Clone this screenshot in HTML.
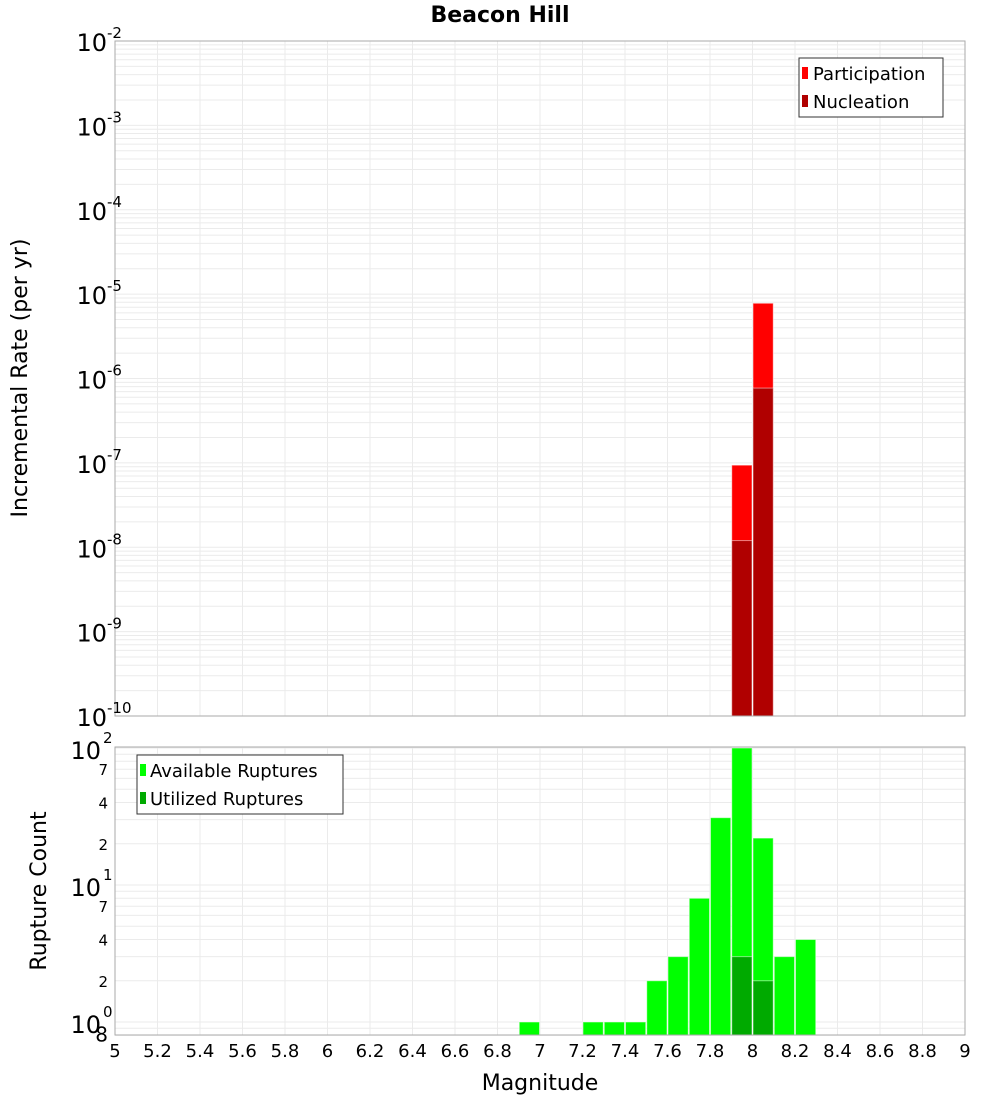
<!DOCTYPE html>
<html><head><meta charset="utf-8"><style>
body{margin:0;background:#fff;}
svg{display:block;font-family:"DejaVu Sans","Liberation Sans",sans-serif;}
</style></head><body>
<svg id="chart" width="1000" height="1100" xmlns="http://www.w3.org/2000/svg">
<rect width="1000" height="1100" fill="#fff"/>
<text x="500" y="22" text-anchor="middle" font-size="22" font-weight="bold">Beacon Hill</text>
<g id="topPlot"></g><g id="botPlot"></g>
<text transform="translate(27,378) rotate(-90)" text-anchor="middle" font-size="22">Incremental Rate (per yr)</text>
<text transform="translate(46,891) rotate(-90)" text-anchor="middle" font-size="22">Rupture Count</text>
<text x="540" y="1090" text-anchor="middle" font-size="22">Magnitude</text>
<g>
<rect x="799" y="58" width="144" height="59" fill="#fff" stroke="#333"/>
<rect x="802" y="67" width="6" height="12" fill="#ff0000"/>
<text x="813" y="80" font-size="18">Participation</text>
<rect x="802" y="95" width="6" height="12" fill="#b00000"/>
<text x="813" y="108" font-size="18">Nucleation</text>
</g>
<g>
<rect x="137" y="755" width="206" height="59" fill="#fff" stroke="#333"/>
<rect x="140" y="764" width="6" height="12" fill="#00ff00"/>
<text x="150" y="777" font-size="18">Available Ruptures</text>
<rect x="140" y="792" width="6" height="12" fill="#00aa00"/>
<text x="150" y="805" font-size="18">Utilized Ruptures</text>
</g>
</svg>
<script>
const rateMags=[7.95,8.05];
const participation=[9.4e-8,7.8e-6];
const nucleation=[1.2e-8,7.7e-7];
const countMags=[6.95,7.25,7.35,7.45,7.55,7.65,7.75,7.85,7.95,8.05,8.15,8.25];
const available=[1,1,1,1,2,3,8,31,100,22,3,4];
const utilMags=[7.95,8.05];
const utilized=[3,2];
const xTicks=[5,5.2,5.4,5.6,5.8,6,6.2,6.4,6.6,6.8,7,7.2,7.4,7.6,7.8,8,8.2,8.4,8.6,8.8,9];
const topDecades=[-10,-9,-8,-7,-6,-5,-4,-3,-2];
const botDecades=[0,1,2];
const botMinorLabels=[0.8,2,4,7,20,40,70];

const NS="http://www.w3.org/2000/svg";
const L=115,R=965;
const xS=m=>L+(m-5)/4*(R-L);
const yTop=v=>716-(Math.log10(v)+10)/8*675;
const yBot=v=>1022-Math.log10(v)*137;
function el(p,tag,a){const e=document.createElementNS(NS,tag);for(const k in a)e.setAttribute(k,a[k]);p.appendChild(e);return e;}
const gTop=document.getElementById('topPlot'),gBot=document.getElementById('botPlot');

function grid(g,y0,y1,yf,minorVals){
  minorVals.forEach(v=>{const yy=yf(v);if(yy>=y0-0.5&&yy<=y1+0.5){const l=el(g,'line',{x1:L,x2:R,y1:yy,y2:yy,stroke:'#ebebeb','stroke-width':1});

}});
  xTicks.forEach(t=>{const l=el(g,'line',{x1:xS(t),x2:xS(t),y1:y0,y2:y1,stroke:'#ebebeb'});

});
}
function bar(g,m,v,yf,base,fill,name){const y=yf(v);const r=el(g,'rect',{x:xS(m-0.05)+0.5,y:y,width:xS(m+0.05)-xS(m-0.05)-1,height:base-y,fill:fill,stroke:'#fff','stroke-opacity':0.5,'stroke-width':1});

}

const tMinor=[];for(let d=-10;d<-2;d++)for(let k=1;k<10;k++)tMinor.push(k*Math.pow(10,d));tMinor.push(1e-2);
grid(gTop,41,716,yTop,tMinor);
rateMags.forEach((m,i)=>bar(gTop,m,participation[i],yTop,716,'#ff0000','participation-bar'));
rateMags.forEach((m,i)=>bar(gTop,m,nucleation[i],yTop,716,'#b00000','nucleation-bar'));
el(gTop,'rect',{x:L,y:41,width:R-L,height:675,fill:'none',stroke:'#aaa'});
topDecades.forEach(d=>{const yy=yTop(Math.pow(10,d));const t=el(gTop,'text',{x:107,y:yy+10,'text-anchor':'end','font-size':24});t.textContent='10';


const s=el(gTop,'text',{x:107,y:yy-3,'font-size':15});s.textContent=String(d);

});

const bMinor=[];for(let d=-1;d<2;d++)for(let k=1;k<10;k++)bMinor.push(k*Math.pow(10,d));bMinor.push(100);
grid(gBot,747,1035,yBot,bMinor);
countMags.forEach((m,i)=>bar(gBot,m,available[i],yBot,1035,'#00ff00','available-bar'));
utilMags.forEach((m,i)=>bar(gBot,m,utilized[i],yBot,1035,'#00aa00','utilized-bar'));
el(gBot,'rect',{x:L,y:747,width:R-L,height:288,fill:'none',stroke:'#aaa'});
botDecades.forEach(d=>{const yy=yBot(Math.pow(10,d));const t=el(gBot,'text',{x:101,y:yy+11,'text-anchor':'end','font-size':24});t.textContent='10';


const s=el(gBot,'text',{x:103,y:yy-5,'font-size':15});s.textContent=String(d);

});
botMinorLabels.forEach(v=>{const yy=yBot(v);const t=el(gBot,'text',{x:108,y:yy+6,'text-anchor':'end','font-size':v<1?20:15});t.textContent=String(v<1?Math.round(v*10):String(v)[0]);

});
xTicks.forEach(t=>{const tx=el(gBot,'text',{x:xS(t),y:1057,'text-anchor':'middle','font-size':18});tx.textContent=String(t);

});
</script>
</body></html>
